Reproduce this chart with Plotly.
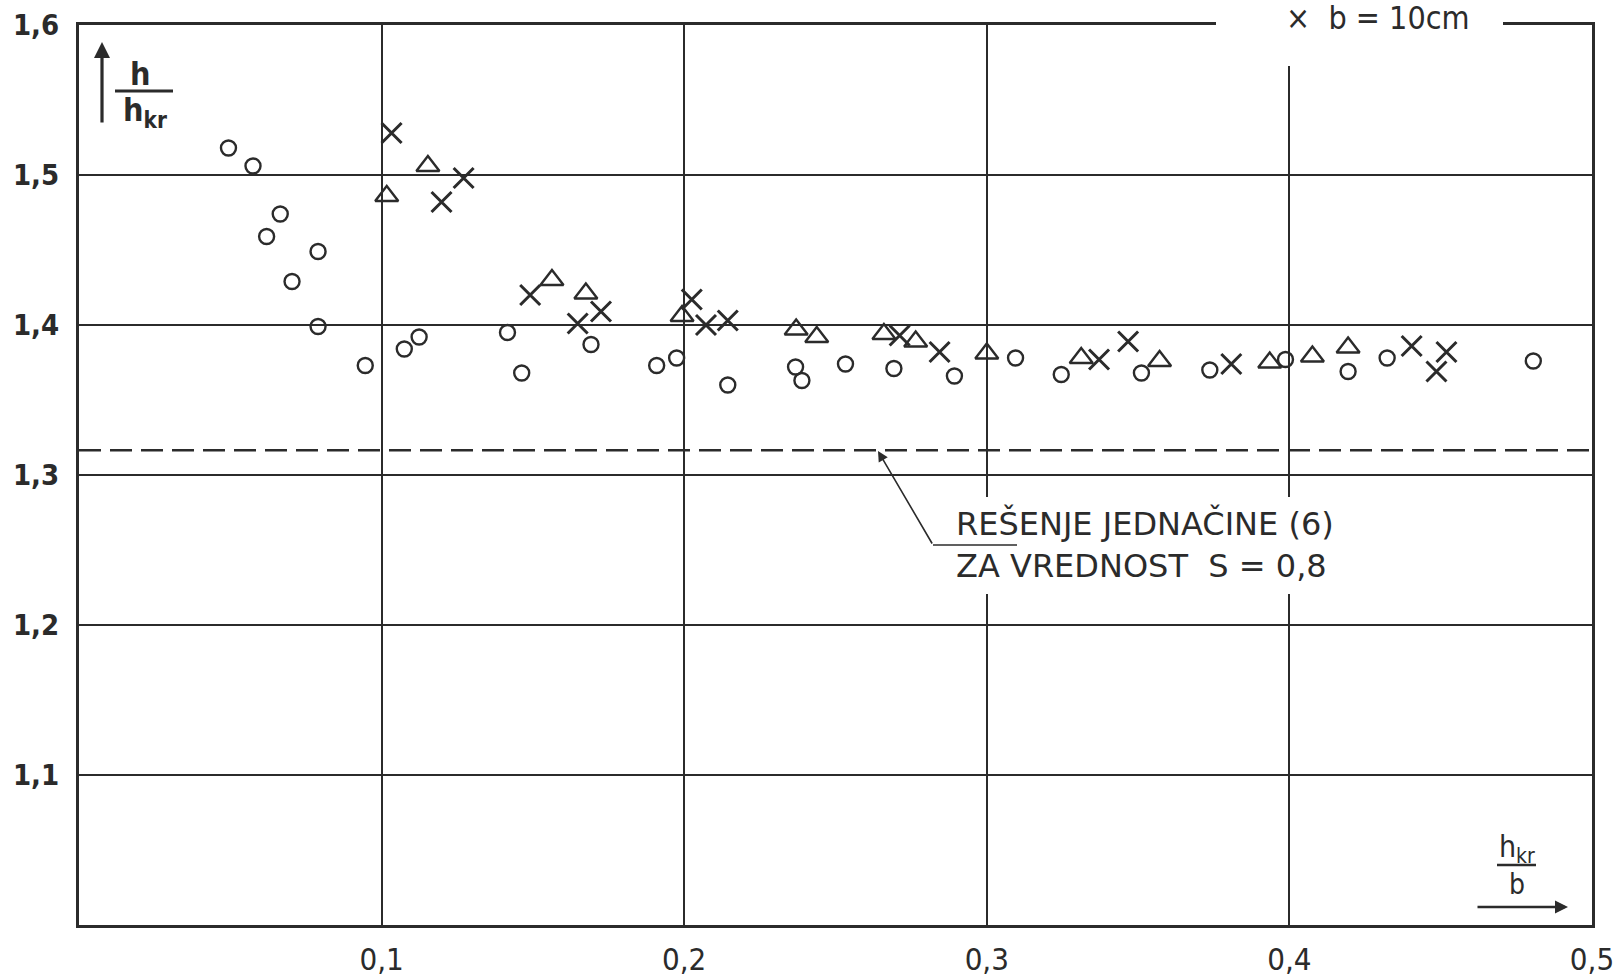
import plotly.graph_objects as go

# ---------------- data ----------------
circle_x = [0.0494, 0.0575, 0.0620, 0.0665, 0.0704, 0.0790, 0.0790, 0.0946, 0.1075, 0.1124,
            0.1416, 0.1463, 0.1692, 0.1909, 0.1975, 0.2144, 0.2368, 0.2389, 0.2533, 0.2693,
            0.2893, 0.3095, 0.3246, 0.3511, 0.3737, 0.3987, 0.4194, 0.4323, 0.4806]
circle_y = [1.518, 1.506, 1.459, 1.474, 1.429, 1.449, 1.399, 1.373, 1.384, 1.392,
            1.395, 1.368, 1.387, 1.373, 1.378, 1.360, 1.372, 1.363, 1.374, 1.371,
            1.366, 1.378, 1.367, 1.368, 1.370, 1.377, 1.369, 1.378, 1.376]

triangle_x = [0.1017, 0.1153, 0.1563, 0.1675, 0.1993, 0.2370, 0.2438, 0.2660, 0.2765, 0.3000,
              0.3312, 0.3571, 0.3935, 0.4076, 0.4194]
triangle_y = [1.486, 1.506, 1.430, 1.421, 1.406, 1.397, 1.392, 1.394, 1.389, 1.381,
              1.378, 1.376, 1.375, 1.379, 1.385]

cross_x = [0.1033, 0.1198, 0.1271, 0.1491, 0.1648, 0.1725, 0.2025, 0.2072, 0.2144, 0.2712,
           0.2844, 0.3371, 0.3467, 0.3808, 0.4404, 0.4486, 0.4519]
cross_y = [1.528, 1.482, 1.498, 1.420, 1.401, 1.409, 1.417, 1.400, 1.403, 1.393,
           1.382, 1.377, 1.389, 1.374, 1.386, 1.369, 1.382]

dashed_x = [0.0, 0.5]
dashed_y = [1.3165, 1.3165]

x_tickvals = [0.1, 0.2, 0.3, 0.4, 0.5]
x_ticktext = ["0,1", "0,2", "0,3", "0,4", "0,5"]
y_tickvals = [1.1, 1.2, 1.3, 1.4, 1.5, 1.6]
y_ticktext = ["1,1", "1,2", "1,3", "1,4", "1,5", "1,6"]

# ---------------- layout helpers ----------------
W, H = 1621, 978
L, R, T, B = 79, 29, 25, 53
PW, PH = W - L - R, H - T - B

def px(X):
    return (X - L) / PW

def py(Y):
    return (H - B - Y) / PH

INK = "#2b2b2b"
FONT = "DejaVu Sans Condensed"

fig = go.Figure()

fig.add_trace(go.Scatter(x=dashed_x, y=dashed_y, mode="lines",
                         line=dict(color=INK, width=2.6, dash="22px,9px"),
                         showlegend=False, hoverinfo="skip", cliponaxis=False))

fig.add_trace(go.Scatter(x=circle_x, y=circle_y, mode="markers", name="o",
                         marker=dict(symbol="circle-open", size=15, color=INK,
                                     line=dict(width=2.4, color=INK)),
                         showlegend=False))
fig.add_trace(go.Scatter(x=triangle_x, y=triangle_y, mode="markers", name="triangle",
                         marker=dict(symbol="triangle-up-open", size=20, color=INK,
                                     line=dict(width=2.4, color=INK)),
                         showlegend=False))
fig.add_trace(go.Scatter(x=cross_x, y=cross_y, mode="markers", name="b = 10cm",
                         marker=dict(symbol="x-thin-open", size=20, color=INK,
                                     line=dict(width=3, color=INK)),
                         showlegend=False))

fig.update_layout(
    width=W, height=H,
    margin=dict(l=L, r=R, t=T, b=B, pad=0, autoexpand=False),
    paper_bgcolor="white", plot_bgcolor="white",
    font=dict(family=FONT, color=INK),
    showlegend=False,
)

fig.update_xaxes(range=[0, 0.5], tickvals=x_tickvals, ticktext=x_ticktext,
                 showgrid=True, gridcolor=INK, gridwidth=1.6,
                 showline=True, linecolor=INK, linewidth=3, mirror=True,
                 ticks="", ticklabelstandoff=5, zeroline=False, automargin=False,
                 tickfont=dict(family=FONT, size=31, color=INK))
fig.update_yaxes(range=[1.0, 1.6], tickvals=y_tickvals, ticktext=y_ticktext,
                 showgrid=True, gridcolor=INK, gridwidth=1.6,
                 showline=True, linecolor=INK, linewidth=3, mirror=True,
                 ticks="", ticklabelstandoff=11, zeroline=False, automargin=False,
                 tickfont=dict(family=FONT, size=29, color=INK, weight="bold"))

shapes = []
# white patch behind annotation text (interrupts gridlines)
shapes.append(dict(type="rect", xref="paper", yref="paper",
                   x0=px(946), x1=px(1356), y0=py(594), y1=py(497),
                   fillcolor="white", line=dict(width=0), layer="above"))
# white patch at top for legend text (interrupts top border)
shapes.append(dict(type="rect", xref="paper", yref="paper",
                   x0=px(1216), x1=px(1503), y0=py(66), y1=py(-5),
                   fillcolor="white", line=dict(width=0), layer="above"))
# leader underline
shapes.append(dict(type="line", xref="paper", yref="paper",
                   x0=px(933), x1=px(1017), y0=py(545), y1=py(545),
                   line=dict(color=INK, width=1.6), layer="above"))
# fraction bars
shapes.append(dict(type="line", xref="paper", yref="paper",
                   x0=px(115), x1=px(173), y0=py(91), y1=py(91),
                   line=dict(color=INK, width=3), layer="above"))
shapes.append(dict(type="line", xref="paper", yref="paper",
                   x0=px(1497), x1=px(1536), y0=py(865), y1=py(865),
                   line=dict(color=INK, width=2.5), layer="above"))
fig.update_layout(shapes=shapes)

ann = []
# legend fragment at top
ann.append(dict(xref="paper", yref="paper", x=px(1378), y=py(18),
                text="×  b = 10cm", showarrow=False,
                font=dict(family=FONT, size=32, color=INK),
                xanchor="center", yanchor="middle"))
# annotation text
ann.append(dict(xref="paper", yref="paper", x=px(954), y=py(502),
                text="REŠENJE JEDNAČINE (6)<br>ZA VREDNOST  S = 0,8",
                showarrow=False, align="left",
                font=dict(family="DejaVu Sans", size=32, color=INK),
                xanchor="left", yanchor="top"))
# leader arrow to dashed line
ann.append(dict(xref="paper", yref="paper", x=px(878), y=py(451),
                ax=55, ay=94, text="", showarrow=True,
                arrowhead=2, arrowsize=1.3, arrowwidth=1.6, arrowcolor=INK))
# y-axis label
ann.append(dict(xref="paper", yref="paper", x=px(102), y=py(42),
                ax=0, ay=82, text="", showarrow=True,
                arrowhead=2, arrowsize=1.0, arrowwidth=3.2, arrowcolor=INK))
ann.append(dict(xref="paper", yref="paper", x=px(140), y=py(74),
                text="<b>h</b>", showarrow=False,
                font=dict(family=FONT, size=32, color=INK),
                xanchor="center", yanchor="middle"))
ann.append(dict(xref="paper", yref="paper", x=px(145), y=py(112),
                text="<b>h<sub>kr</sub></b>", showarrow=False,
                font=dict(family=FONT, size=32, color=INK),
                xanchor="center", yanchor="middle"))
# x-axis label
ann.append(dict(xref="paper", yref="paper", x=px(1517), y=py(848),
                text="h<sub>kr</sub>", showarrow=False,
                font=dict(family=FONT, size=30, color=INK),
                xanchor="center", yanchor="middle"))
ann.append(dict(xref="paper", yref="paper", x=px(1517), y=py(884),
                text="b", showarrow=False,
                font=dict(family=FONT, size=28, color=INK),
                xanchor="center", yanchor="middle"))
ann.append(dict(xref="paper", yref="paper", x=px(1568), y=py(907),
                ax=-92, ay=0, text="", showarrow=True,
                arrowhead=2, arrowsize=1.0, arrowwidth=2.6, arrowcolor=INK))
fig.update_layout(annotations=ann)

fig.write_html("out.html")
